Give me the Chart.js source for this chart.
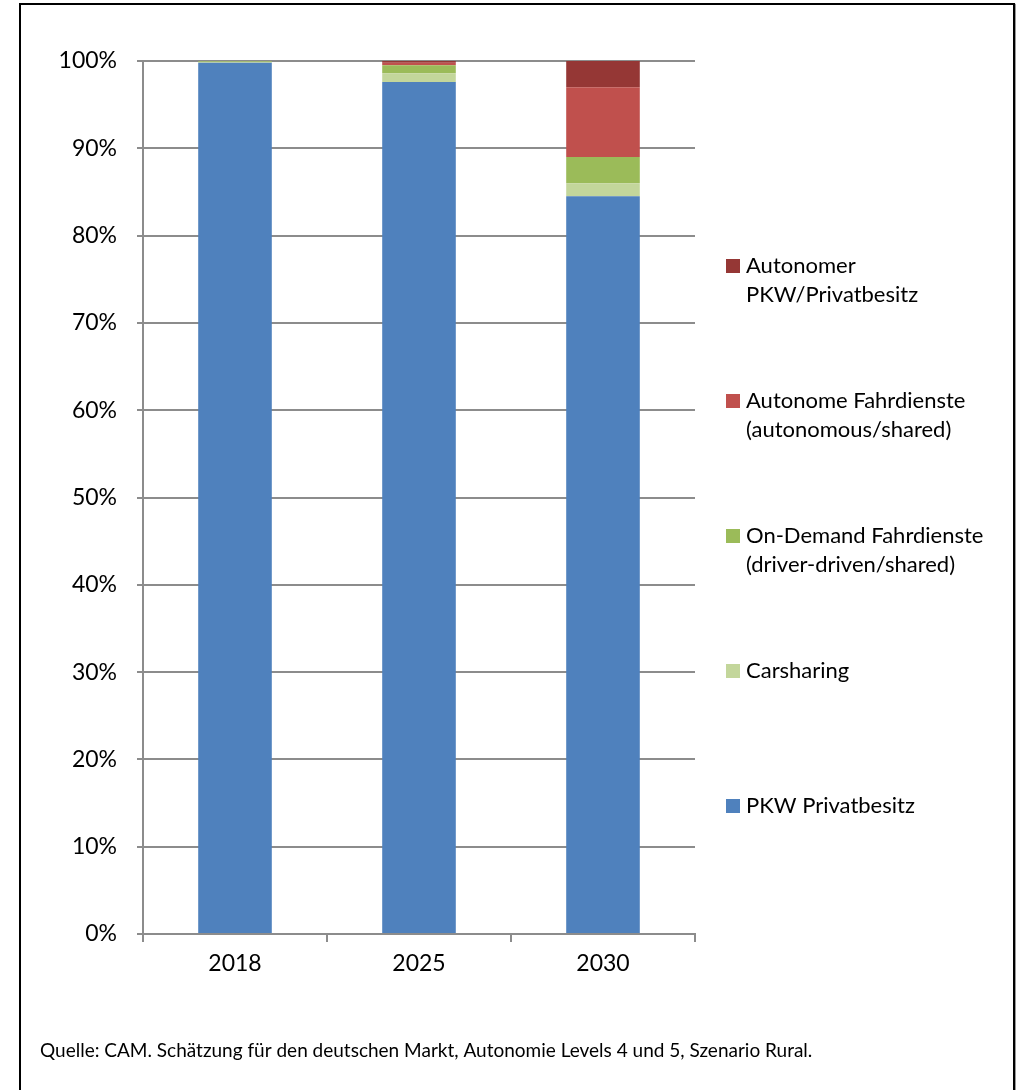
<!DOCTYPE html>
<html>
<head>
<meta charset="utf-8">
<script src="https://cdn.jsdelivr.net/npm/chart.js@4"></script>
<style>
  html, body { margin: 0; padding: 0; background: #fff; }
  #wrap { position: relative; width: 1016px; height: 1090px; overflow: hidden; }
  #frame {
    position: absolute; left: 19px; top: 3px; width: 992px; height: 1100px;
    border: 2px solid #000; box-shadow: 1px 1px 1px #999;
  }
  canvas { position: absolute; left: 0; top: 0; }
</style>
</head>
<body>
<div id="wrap">
  <div id="frame"></div>
  <canvas id="mobilityChart" width="1016" height="1090"></canvas>
</div>
<script>
const years = ['2018', '2025', '2030'];
const pkwPrivat = [99.8, 97.6, 84.5];
const carsharing = [0.1, 1.0, 1.5];
const onDemand = [0.1, 0.9, 3.0];
const autonomeDienste = [0.0, 0.3, 8.0];
const autonomerPrivat = [0.0, 0.2, 3.0];
const percentTicks = [0, 10, 20, 30, 40, 50, 60, 70, 80, 90, 100];
const sourceNote = 'Quelle: CAM. Schätzung für den deutschen Markt, Autonomie Levels 4 und 5, Szenario Rural.';

const font = 'Lato, "Open Sans", sans-serif';
const gridGray = '#8c8c8c';

// legend drawn by hand so long names can wrap onto two lines
const sideLegend = {
  id: 'sideLegend',
  afterDraw(chart) {
    const c = chart.ctx;
    const sets = chart.data.datasets.slice().reverse();
    c.save();
    c.font = '22px ' + font;
    c.textBaseline = 'middle';
    c.textAlign = 'left';
    sets.forEach((ds, i) => {
      const y = 266 + i * 135;
      c.fillStyle = ds.backgroundColor;
      c.fillRect(726, y - 7, 14, 14);
      c.fillStyle = '#000';
      ds.legendText.split('\n').forEach((line, k) => {
        c.fillText(line, 746, y + k * 29);
      });
    });
    c.font = '19px ' + font;
    c.fillText(sourceNote, 40, 1051);
    c.restore();
  }
};

const ctx = document.getElementById('mobilityChart').getContext('2d');
new Chart(ctx, {
  type: 'bar',
  data: {
    labels: years,
    datasets: [
      { label: 'PKW Privatbesitz', legendText: 'PKW Privatbesitz', data: pkwPrivat, backgroundColor: '#4f81bd' },
      { label: 'Carsharing', legendText: 'Carsharing', data: carsharing, backgroundColor: '#c3d69b' },
      { label: 'On-Demand Fahrdienste (driver-driven/shared)', legendText: 'On-Demand Fahrdienste\n(driver-driven/shared)', data: onDemand, backgroundColor: '#9bbb59' },
      { label: 'Autonome Fahrdienste (autonomous/shared)', legendText: 'Autonome Fahrdienste\n(autonomous/shared)', data: autonomeDienste, backgroundColor: '#c0504d' },
      { label: 'Autonomer PKW/Privatbesitz', legendText: 'Autonomer\nPKW/Privatbesitz', data: autonomerPrivat, backgroundColor: '#953735' }
    ]
  },
  options: {
    responsive: false,
    animation: false,
    layout: { padding: { left: 0, right: 321, top: 61, bottom: 96 } },
    datasets: { bar: { barPercentage: 0.4, categoryPercentage: 1.0 } },
    plugins: { legend: { display: false }, tooltip: { enabled: false } },
    scales: {
      x: {
        stacked: true,
        afterFit(scale) { scale.height = 60; },
        grid: { drawOnChartArea: false, color: gridGray, lineWidth: 2, tickLength: 8 },
        border: { color: gridGray, width: 2 },
        ticks: { color: '#000', font: { family: font, size: 23 }, padding: 8 }
      },
      y: {
        stacked: true,
        min: 0,
        max: 100,
        afterFit(scale) { scale.width = 143; },
        afterBuildTicks(scale) { scale.ticks = percentTicks.map(v => ({ value: v })); },
        grid: { color: gridGray, lineWidth: 2, tickLength: 6 },
        border: { color: gridGray, width: 2 },
        ticks: { color: '#000', font: { family: font, size: 23 }, padding: 20, callback: v => v + '%' }
      }
    }
  },
  plugins: [sideLegend]
});
</script>
</body>
</html>
